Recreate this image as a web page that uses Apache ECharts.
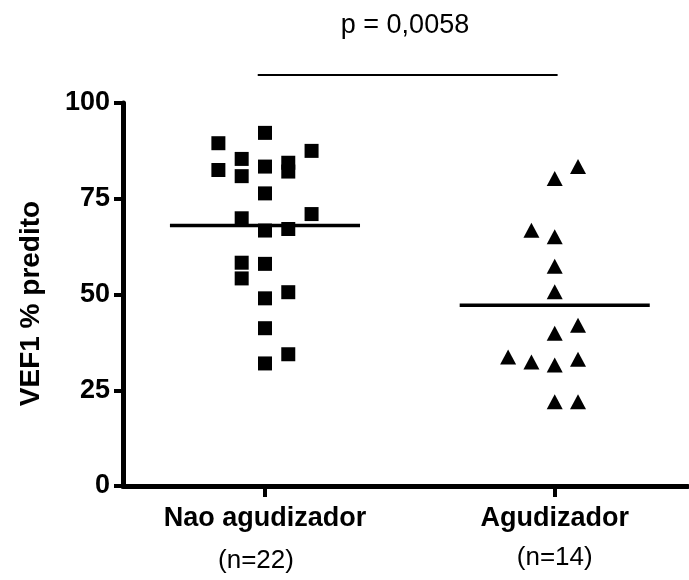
<!DOCTYPE html>
<html>
<head>
<meta charset="utf-8">
<script src="https://cdn.jsdelivr.net/npm/echarts@6/dist/echarts.min.js"></script>
<style>
  html, body { margin: 0; padding: 0; background: #fff; }
  #chart { width: 689px; height: 580px; }
</style>
</head>
<body>
<div id="chart"></div>
<script>
// Group names and sample sizes
const categories = ['Nao agudizador', 'Agudizador'];
const groupSizes = ['(n=22)', '(n=14)'];

// VEF1 % predito per patient
const naoAgudizador = [92.2, 89.5, 87.5, 85.4, 84.4, 83.4, 82.5, 82.1, 80.9, 76.4, 71.0,
                       69.9, 67.1, 66.7, 58.3, 58.0, 54.2, 50.6, 49.0, 41.2, 34.4, 32.0];
const agudizador = [83.4, 80.3, 66.8, 65.1, 57.4, 50.7, 42.0, 39.9, 33.7, 33.1, 32.4,
                    31.6, 22.0, 22.0];

// Column slot of each dot inside its group's scatter (dot-plot spread)
const naoSlots = [0, -2, 2, -1, 1, 0, -2, 1, -1, 0, 2, -1, 1, 0, -1, 0, -1, 1, 0, 0, 1, 0];
const agudSlots = [1, 0, -1, 0, 0, 0, 1, 0, -2, 1, -1, 0, 0, 1];

// Value axis ticks
const yTicks = [0, 25, 50, 75, 100];
const pValueText = 'p = 0,0058';

const FONT = 'Arial, "Liberation Sans", sans-serif';
const slotStep = 0.0804;   // horizontal spacing between dot columns (x units)
const meanHalf = 0.328;    // half width of the mean bar (x units)
const bracketLevel = 107.3;

const mean = arr => arr.reduce((s, v) => s + v, 0) / arr.length;
const spread = (vals, slots, cat) => vals.map((v, i) => [cat + slots[i] * slotStep, v]);
const meanBar = (vals, cat) => [[cat - meanHalf, mean(vals)], [cat + meanHalf, mean(vals)]];

const chart = echarts.init(document.getElementById('chart'), null, { renderer: 'canvas' });

chart.setOption({
  animation: false,
  backgroundColor: '#ffffff',
  grid: { left: 123, right: 1, top: 103, bottom: 94, containLabel: false },
  xAxis: {
    type: 'value',
    min: 0.51,
    max: 2.46,
    splitLine: { show: false },
    axisLine: { show: true, lineStyle: { color: '#000', width: 5 } },
    axisTick: { show: true, customValues: [1, 2], length: 11, lineStyle: { color: '#000', width: 4 } },
    axisLabel: {
      show: true,
      customValues: [1, 2],
      margin: 16,
      formatter: v => {
        const i = Math.round(v) - 1;
        return '{a|' + categories[i] + '}\n{' + (i === 0 ? 'b0' : 'b1') + '|' + groupSizes[i] + '}';
      },
      rich: {
        a: { fontFamily: FONT, fontWeight: 'bold', fontSize: 27, color: '#000', lineHeight: 34 },
        b0: { fontFamily: FONT, fontSize: 26, color: '#000', lineHeight: 50, padding: [0, 18, 0, 0] },
        b1: { fontFamily: FONT, fontSize: 26, color: '#000', lineHeight: 44 }
      }
    }
  },
  yAxis: {
    type: 'value',
    min: yTicks[0],
    max: yTicks[yTicks.length - 1],
    interval: 25,
    name: 'VEF1 % predito',
    nameLocation: 'middle',
    nameGap: 78,
    nameTextStyle: { fontFamily: FONT, fontWeight: 'bold', fontSize: 28, color: '#000', padding: [0, 18, 0, 0] },
    splitLine: { show: false },
    axisLine: { show: true, lineStyle: { color: '#000', width: 5 } },
    axisTick: { show: true, length: 9, lineStyle: { color: '#000', width: 4 } },
    axisLabel: { margin: 13, fontFamily: FONT, fontWeight: 'bold', fontSize: 27, color: '#000' }
  },
  series: [
    {
      type: 'scatter',
      symbol: 'rect',
      symbolSize: 14,
      itemStyle: { color: '#000', opacity: 1 },
      data: spread(naoAgudizador, naoSlots, 1)
    },
    {
      type: 'scatter',
      symbol: 'triangle',
      symbolSize: [16, 15],
      itemStyle: { color: '#000', opacity: 1 },
      data: spread(agudizador, agudSlots, 2)
    },
    {
      type: 'line',
      symbol: 'none',
      lineStyle: { color: '#000', width: 3.5 },
      data: meanBar(naoAgudizador, 1)
    },
    {
      type: 'line',
      symbol: 'none',
      lineStyle: { color: '#000', width: 3.5 },
      data: meanBar(agudizador, 2)
    },
    {
      // significance bracket between the two groups
      type: 'line',
      symbol: 'none',
      clip: false,
      lineStyle: { color: '#000', width: 2 },
      data: [[0.975, bracketLevel], [2.01, bracketLevel]]
    }
  ],
  graphic: [
    {
      type: 'text',
      x: 405,
      y: 26,
      style: {
        text: pValueText,
        fontFamily: FONT,
        fontSize: 27,
        fill: '#000',
        textAlign: 'center',
        textVerticalAlign: 'middle'
      }
    }
  ]
});
</script>
</body>
</html>
